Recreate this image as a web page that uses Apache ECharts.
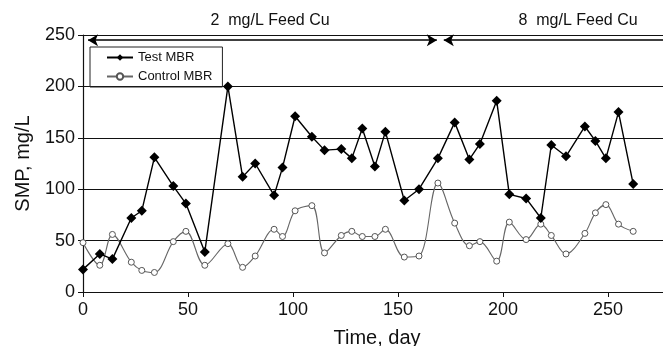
<!DOCTYPE html>
<html>
<head>
<meta charset="utf-8">
<script src="https://cdn.jsdelivr.net/npm/echarts@6/dist/echarts.min.js"></script>
<style>
  html, body { margin: 0; padding: 0; background: #fff; }
  #chart { width: 663px; height: 346px; }
</style>
</head>
<body>
<div id="chart"></div>
<script>
// data
var days = [0, 8, 14, 23, 28, 34, 43, 49, 58, 69, 76, 82, 91, 95, 101, 109, 115, 123, 128, 133,
  139, 144, 153, 160, 169, 177, 184, 189, 197, 203, 211, 218, 223, 230, 239, 244, 249, 255, 262]
var testMBR = [22, 37, 32, 72, 79, 131, 103, 86, 39, 200, 112, 125, 94, 121, 171, 151, 138, 139, 130, 159,
  122, 156, 89, 100, 130, 165, 129, 144, 186, 95, 91, 72, 143, 132, 161, 147, 130, 175, 105]
var controlMBR = [48, 26, 56, 29, 21, 19, 49, 59, 26, 47, 24, 35, 61, 54, 79, 84, 38, 55, 59, 54,
  54, 61, 34, 35, 106, 67, 45, 49, 30, 68, 51, 66, 55, 37, 57, 77, 85, 66, 59]
var yTicks = [0, 50, 100, 150, 200, 250]
// feed periods: [start, end] in days, arrow height
var periods = [[2.4, 168.5], [171.8, 280]]
var periodLabels = ['2  mg/L Feed Cu', '8  mg/L Feed Cu']
var arrowY = 245

var font = 'Liberation Sans, Arial, sans-serif'
var chart = echarts.init(document.getElementById('chart'))

chart.setOption({
  animation: false,
  textStyle: { fontFamily: font, color: '#111' },
  grid: { left: 83, top: 35, width: 588, height: 257, outerBoundsMode: 'none', containLabel: false },
  legend: {
    orient: 'vertical',
    left: 90,
    top: 47,
    width: 128,
    padding: [4, 10, 4, 16],
    itemGap: 6,
    itemWidth: 26,
    itemHeight: 8,
    borderColor: '#222',
    borderWidth: 1,
    textStyle: { fontSize: 13, fontFamily: font, color: '#111' },
    data: ['Test MBR', 'Control MBR']
  },
  graphic: periodLabels.map(function (t, i) {
    return {
      type: 'text',
      x: i === 0 ? 270 : 578,
      y: 21,
      style: { text: t, font: '16px ' + font, fill: '#111', textAlign: 'center', textVerticalAlign: 'middle' }
    }
  }),
  xAxis: {
    type: 'value',
    min: 0,
    max: 280,
    interval: 50,
    name: 'Time, day',
    nameLocation: 'middle',
    nameGap: 36,
    nameTextStyle: { fontSize: 20, fontFamily: font, color: '#111' },
    axisLine: { lineStyle: { color: '#111', width: 1.2 } },
    axisTick: { show: true, length: 5, lineStyle: { color: '#111' } },
    axisLabel: { fontSize: 18, margin: 9, color: '#111', showMaxLabel: false },
    splitLine: { show: false }
  },
  yAxis: {
    type: 'value',
    min: yTicks[0],
    max: yTicks[yTicks.length - 1],
    interval: 50,
    name: 'SMP, mg/L',
    nameLocation: 'middle',
    nameGap: 50,
    nameTextStyle: { fontSize: 20, fontFamily: font, color: '#111' },
    axisLine: { show: true, lineStyle: { color: '#111', width: 1.2 } },
    axisTick: { show: true, length: 5, lineStyle: { color: '#111' } },
    axisLabel: { fontSize: 18, margin: 8, color: '#111' },
    splitLine: { show: true, lineStyle: { color: '#111', width: 1.2 } }
  },
  series: [
    {
      name: 'Test MBR',
      type: 'line',
      data: days.map(function (d, i) { return [d, testMBR[i]] }),
      symbol: 'diamond',
      symbolSize: 10,
      itemStyle: { color: '#000' },
      lineStyle: { color: '#000', width: 1.4 },
      z: 3,
      markLine: {
        silent: true,
        symbol: ['arrow', 'arrow'],
        symbolSize: [9, 10],
        label: { show: false },
        lineStyle: { color: '#000', width: 1.6, type: 'solid' },
        data: periods.map(function (p) {
          // the last period runs on past the right edge, no head there
          var end = { coord: [p[1], arrowY] }
          if (p[1] >= 280) end.symbol = 'none'
          return [{ coord: [p[0], arrowY] }, end]
        })
      }
    },
    {
      name: 'Control MBR',
      type: 'line',
      smooth: 0.35,
      data: days.map(function (d, i) { return [d, controlMBR[i]] }),
      symbol: 'circle',
      symbolSize: 6,
      itemStyle: { color: '#fff', borderColor: '#555', borderWidth: 1 },
      lineStyle: { color: '#666', width: 1.1 },
      z: 2
    }
  ]
})
</script>
</body>
</html>
